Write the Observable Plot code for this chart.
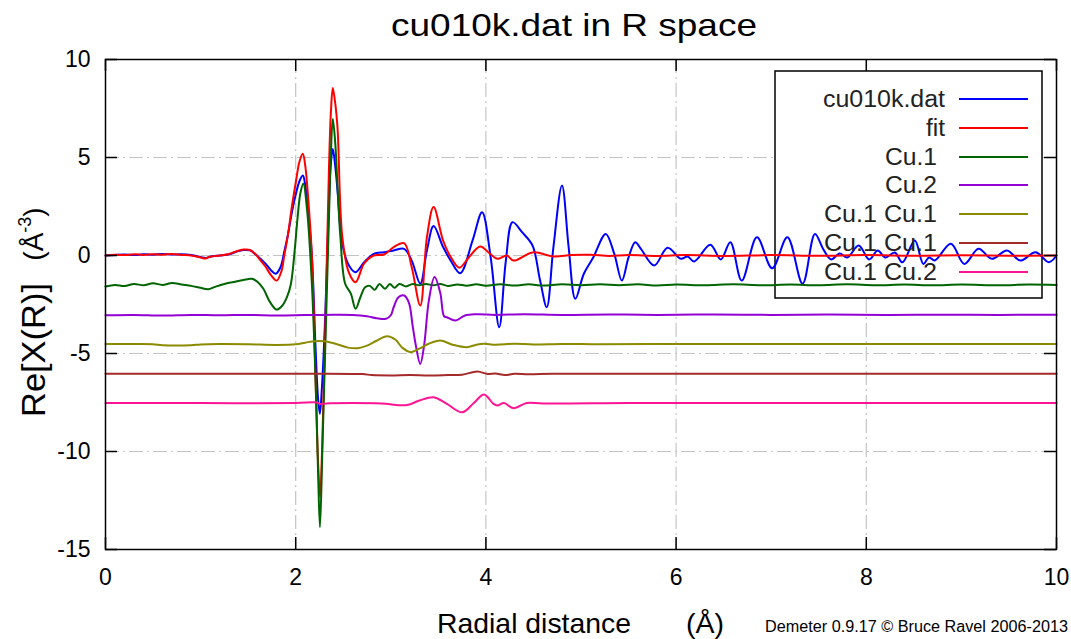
<!DOCTYPE html>
<html>
<head>
<meta charset="utf-8">
<script src="https://cdn.jsdelivr.net/npm/d3@7"></script>
<script src="https://cdn.jsdelivr.net/npm/@observablehq/plot@0.6"></script>
<style>
  body { margin: 0; background: #fff; }
  #chart svg { display: block; font-family: "Liberation Sans", Arial, sans-serif; }
</style>
</head>
<body>
<div id="chart"></div>
<script>
// Series names, in legend order, and the vertical offset each curve is stacked at
const seriesNames = ["cu010k.dat", "fit", "Cu.1", "Cu.2", "Cu.1 Cu.1", "Cu.1 Cu.1", "Cu.1 Cu.2"];
const seriesOffsets = [0, 0, -1.5, -3, -4.5, -6, -7.5];

// Tick values
const xTicks = [0, 2, 4, 6, 8, 10];
const yTicks = [-15, -10, -5, 0, 5, 10];
const xGrid = [2, 4, 6, 8];
const yGrid = [-10, -5, 0, 5];

// Re[chi(R)] of the data (R in Å)
const dataR = [0.0, 0.1, 0.2, 0.3, 0.4, 0.5, 0.6, 0.7, 0.8, 0.9, 1.0, 1.05, 1.1, 1.2, 1.3, 1.38, 1.45, 1.52, 1.58, 1.63, 1.68, 1.74, 1.79, 1.84, 1.88, 1.92, 1.96, 2.0, 2.04, 2.075, 2.1, 2.13, 2.17, 2.21, 2.235, 2.254, 2.275, 2.31, 2.35, 2.37, 2.39, 2.415, 2.44, 2.49, 2.56, 2.63, 2.72, 2.82, 2.93, 3.03, 3.14, 3.22, 3.31, 3.38, 3.45, 3.55, 3.63, 3.73, 3.86, 3.96, 4.05, 4.14, 4.21, 4.28, 4.38, 4.49, 4.57, 4.64, 4.71, 4.80, 4.87, 4.94, 5.03, 5.13, 5.26, 5.35, 5.43, 5.5, 5.57, 5.63, 5.77, 5.91, 6.05, 6.12, 6.19, 6.36, 6.47, 6.57, 6.69, 6.85, 7.01, 7.17, 7.33, 7.46, 7.55, 7.63, 7.72, 7.8, 7.92, 8.03, 8.12, 8.2, 8.3, 8.38, 8.51, 8.6, 8.66, 8.72, 8.89, 9.03, 9.18, 9.32, 9.48, 9.62, 9.78, 9.92, 10.0];
const dataV = [0.0, 0.03, 0.05, 0.02, 0.06, 0.04, 0.08, 0.05, 0.06, 0.02, -0.08, -0.13, -0.06, 0.0, 0.06, 0.2, 0.28, 0.26, 0.05, -0.17, -0.4, -0.75, -0.93, -0.6, 0.2, 1.1, 2.2, 3.1, 3.8, 4.08, 3.6, 2.3, 0.0, -4.85, -7.3, -8.08, -6.8, -3.15, 2.8, 4.7, 5.44, 4.6, 3.3, 0.6, -0.51, -0.85, -0.34, 0.08, 0.17, 0.26, 0.34, -0.26, -1.44, 0.26, 1.5, 0.43, -0.26, -0.9, 0.77, 2.21, -0.09, -3.66, -0.26, 1.7, 1.19, 0.51, -1.28, -2.64, 0.43, 3.57, 0.43, -2.21, -0.93, -0.09, 1.1, 0.08, -1.28, -0.1, 0.68, 0.34, -0.51, 0.39, -0.17, -0.05, -0.3, 0.55, -0.2, 0.68, -1.28, 0.93, -0.65, 0.93, -1.44, 1.1, 0.3, -0.2, 0.1, -0.1, 0.51, -0.2, 0.25, -0.1, 0.15, -0.35, 0.77, -0.43, -0.1, -0.25, 0.6, -0.43, 0.34, -0.17, 0.26, -0.26, 0.17, -0.34, 0.0];

// Fit
const fitR = [0.0, 0.1, 0.2, 0.3, 0.4, 0.5, 0.6, 0.7, 0.8, 0.9, 1.0, 1.05, 1.1, 1.2, 1.3, 1.38, 1.45, 1.52, 1.58, 1.63, 1.68, 1.74, 1.80, 1.85, 1.88, 1.92, 1.96, 2.0, 2.04, 2.075, 2.1, 2.13, 2.17, 2.21, 2.235, 2.256, 2.28, 2.31, 2.35, 2.37, 2.39, 2.415, 2.44, 2.49, 2.56, 2.63, 2.72, 2.82, 2.93, 3.03, 3.14, 3.22, 3.31, 3.38, 3.45, 3.55, 3.63, 3.72, 3.82, 3.94, 4.04, 4.12, 4.22, 4.29, 4.5, 4.71, 4.9, 5.1, 5.3, 5.5, 5.8, 6.1, 6.5, 7.0, 7.5, 8.0, 8.5, 9.0, 9.5, 10.0];
const fitV = [0.0, 0.04, 0.02, 0.06, 0.03, 0.07, 0.04, 0.08, 0.03, 0.0, -0.1, -0.15, -0.06, 0.0, 0.08, 0.22, 0.3, 0.28, 0.05, -0.25, -0.55, -1.0, -1.28, -0.8, 0.0, 1.1, 2.5, 3.7, 4.8, 5.19, 4.6, 3.0, 0.0, -6.5, -10.5, -12.33, -9.5, -4.0, 4.5, 7.3, 8.55, 7.8, 6.5, 0.95, -0.88, -1.36, -0.4, 0.0, 0.05, 0.43, 0.63, -0.6, -2.55, 0.94, 2.47, 0.76, -0.08, -0.62, -0.1, 0.46, 0.1, -0.17, 0.0, -0.26, 0.17, -0.05, 0.03, 0.04, -0.02, 0.03, -0.02, 0.02, -0.02, 0.02, -0.01, 0.02, -0.01, 0.01, -0.01, 0.0];

// Cu.1 path
const cu1R = [0.0, 0.1, 0.2, 0.3, 0.4, 0.5, 0.6, 0.7, 0.8, 0.9, 1.0, 1.08, 1.15, 1.25, 1.35, 1.45, 1.54, 1.6, 1.66, 1.73, 1.80, 1.86, 1.91, 1.95, 1.99, 2.02, 2.05, 2.08, 2.12, 2.17, 2.21, 2.235, 2.255, 2.28, 2.31, 2.35, 2.37, 2.39, 2.415, 2.44, 2.47, 2.52, 2.58, 2.63, 2.68, 2.73, 2.78, 2.83, 2.88, 2.94, 2.99, 3.04, 3.09, 3.16, 3.23, 3.3, 3.37, 3.45, 3.52, 3.6, 3.7, 3.8, 3.9, 4.0, 4.15, 4.3, 4.45, 4.6, 4.8, 5.0, 5.2, 5.4, 5.6, 5.8, 6.0, 6.3, 6.6, 6.9, 7.2, 7.5, 7.8, 8.1, 8.4, 8.7, 9.0, 9.4, 9.7, 10.0];
const cu1V = [-0.08, 0.0, -0.06, 0.05, -0.02, 0.08, 0.0, 0.1, 0.02, -0.05, -0.15, -0.22, -0.1, 0.05, 0.15, 0.25, 0.31, 0.15, -0.2, -0.88, -1.26, -1.05, -0.6, 0.06, 1.8, 3.45, 4.7, 5.16, 3.8, 0.06, -5.05, -9.5, -12.36, -8.5, -3.35, 3.45, 6.7, 8.47, 7.3, 5.0, 2.43, 0.06, -0.45, -1.22, -0.63, -0.12, -0.05, -0.25, 0.05, -0.2, 0.05, -0.15, 0.05, -0.08, 0.05, -0.02, 0.05, -0.02, 0.05, -0.05, 0.02, -0.04, 0.03, -0.04, 0.03, -0.03, 0.03, -0.03, 0.03, -0.02, 0.03, -0.02, 0.03, -0.03, 0.02, -0.02, 0.03, -0.02, 0.02, -0.02, 0.03, -0.02, 0.02, -0.02, 0.02, -0.02, 0.02, 0.0];

// Cu.2 path
const cu2R = [0.0, 0.3, 0.6, 0.9, 1.2, 1.5, 1.8, 2.1, 2.4, 2.6, 2.75, 2.85, 2.95, 3.0, 3.03, 3.08, 3.14, 3.19, 3.23, 3.26, 3.31, 3.35, 3.40, 3.46, 3.52, 3.56, 3.59, 3.68, 3.78, 3.9, 4.1, 4.4, 4.8, 5.3, 5.8, 6.4, 7.0, 7.6, 8.2, 8.8, 9.4, 10.0];
const cu2V = [-0.05, -0.03, -0.06, -0.03, -0.05, -0.03, -0.06, -0.04, -0.02, -0.03, -0.1, -0.2, -0.23, -0.05, 0.36, 0.87, 0.96, 0.6, -0.6, -1.5, -2.53, -1.6, 0.7, 1.9, 1.1, -0.1, -0.15, -0.32, -0.06, 0.0, -0.03, 0.0, -0.03, -0.01, -0.03, -0.01, -0.03, -0.01, -0.03, -0.02, -0.03, -0.02];

// First Cu.1 Cu.1 path
const ss1R = [0.0, 0.3, 0.5, 0.6, 0.9, 1.0, 1.2, 1.5, 1.8, 2.0, 2.1, 2.2, 2.3, 2.45, 2.55, 2.65, 2.75, 2.85, 2.96, 3.05, 3.12, 3.21, 3.3, 3.4, 3.52, 3.65, 3.8, 3.9, 3.98, 4.1, 4.3, 4.5, 4.8, 5.2, 5.8, 6.5, 7.2, 8.0, 8.8, 9.5, 10.0];
const ss1V = [-0.02, -0.02, -0.03, -0.08, -0.08, -0.04, -0.02, -0.03, -0.06, -0.03, 0.05, 0.13, 0.12, -0.05, -0.2, -0.23, -0.1, 0.15, 0.38, 0.2, -0.2, -0.43, -0.25, 0.0, 0.16, -0.05, -0.18, -0.05, 0.0, -0.05, 0.0, -0.04, -0.01, -0.03, -0.01, -0.02, -0.01, -0.02, -0.01, -0.02, -0.01];

// Second Cu.1 Cu.1 path
const ss2R = [0.0, 1.0, 2.0, 2.7, 2.8, 3.0, 3.2, 3.4, 3.6, 3.75, 3.91, 4.02, 4.1, 4.2, 4.3, 4.45, 4.7, 5.5, 6.5, 7.5, 8.5, 10.0];
const ss2V = [-0.03, -0.03, -0.03, -0.05, -0.1, -0.12, -0.1, -0.12, -0.1, -0.08, 0.08, -0.05, -0.02, -0.1, -0.03, -0.06, -0.03, -0.03, -0.03, -0.03, -0.03, -0.03];

// Cu.1 Cu.2 path
const msR = [0.0, 1.0, 2.0, 2.22, 2.26, 2.32, 2.6, 2.9, 3.17, 3.3, 3.45, 3.59, 3.75, 3.87, 3.98, 4.08, 4.12, 4.19, 4.29, 4.43, 4.6, 5.5, 6.5, 7.5, 8.5, 10.0];
const msV = [-0.03, -0.03, -0.03, 0.0, -0.08, -0.05, -0.03, -0.05, -0.13, 0.1, 0.27, -0.07, -0.5, -0.04, 0.41, -0.07, -0.15, -0.03, -0.29, -0.02, -0.05, -0.03, -0.03, -0.03, -0.03, -0.03];

const seriesR = [dataR, fitR, cu1R, cu2R, ss1R, ss2R, msR];
const seriesV = [dataV, fitV, cu1V, cu2V, ss1V, ss2V, msV];
const seriesColors = ["#0000ff", "#ff0000", "#006400", "#9400d3", "#8b8b00", "#a52a2a", "#ff1493"];

// Chart geometry
const W = 1071, H = 639;
const M = {top: 59, right: 15, bottom: 90, left: 105};
const frameW = W - M.left - M.right;
const frameH = H - M.top - M.bottom;
const tickLen = 12;
const gridStyle = {stroke: "#c4c4c4", strokeOpacity: 1, strokeWidth: 1.2, strokeDasharray: "14,4,2,4"};

const lines = seriesNames.map((name, i) =>
  Plot.line(
    seriesR[i].map((r, j) => ({r, v: seriesV[i][j] + seriesOffsets[i]})),
    {x: "r", y: "v", stroke: seriesColors[i], strokeWidth: 2, curve: "catmull-rom"}
  )
);

const plot = Plot.plot({
  width: W,
  height: H,
  marginTop: M.top,
  marginRight: M.right,
  marginBottom: M.bottom,
  marginLeft: M.left,
  x: {domain: [0, 10]},
  y: {domain: [-15, 10]},
  style: {fontFamily: "'Liberation Sans', Arial, sans-serif", color: "black", background: "white"},
  marks: [
    Plot.gridX(xGrid, gridStyle),
    Plot.gridY(yGrid, gridStyle),
    ...lines,
    // inward ticks on all four sides
    Plot.ruleX(xTicks, {x: d => d, insetTop: frameH - tickLen, stroke: "black", strokeWidth: 1.5}),
    Plot.ruleX(xTicks, {x: d => d, insetBottom: frameH - tickLen, stroke: "black", strokeWidth: 1.5}),
    Plot.ruleY(yTicks, {y: d => d, insetRight: frameW - tickLen, stroke: "black", strokeWidth: 1.5}),
    Plot.ruleY(yTicks, {y: d => d, insetLeft: frameW - tickLen, stroke: "black", strokeWidth: 1.5}),
    Plot.frame({stroke: "black", strokeWidth: 1.5}),
    Plot.axisX(xTicks, {anchor: "bottom", tickSize: 0, tickPadding: 19, fontSize: 23, label: null, tickFormat: d => String(d)}),
    Plot.axisY(yTicks, {anchor: "left", tickSize: 0, tickPadding: 15, fontSize: 23, label: null, tickFormat: d => String(d)})
  ]
});

document.getElementById("chart").appendChild(plot);

const svg = d3.select(plot);
const font = "'Liberation Sans', Arial, sans-serif";

function addText(parent, str, opts) {
  const t = parent.append("text")
    .attr("x", opts.x).attr("y", opts.y)
    .attr("font-family", font)
    .attr("font-size", opts.size)
    .attr("fill", "black")
    .attr("text-anchor", opts.anchor || "start")
    .text(str);
  if (opts.length) t.attr("textLength", opts.length).attr("lengthAdjust", "spacingAndGlyphs");
  if (opts.transform) t.attr("transform", opts.transform);
  return t;
}

// Title
addText(svg, "cu010k.dat in R space", {x: 574, y: 36, size: 32, anchor: "middle", length: 366});

// X axis label
addText(svg, "Radial distance", {x: 437, y: 633, size: 28, length: 194});
addText(svg, "(Å)", {x: 686, y: 633, size: 28, length: 38});

// Y axis label (rotated)
addText(svg, "Re[X(R)]", {x: 0, y: 0, size: 34, anchor: "middle", length: 134, transform: "translate(45,350) rotate(-90)"});
const unit = svg.append("text")
  .attr("transform", "translate(43,234) rotate(-90)")
  .attr("text-anchor", "middle")
  .attr("font-family", font)
  .attr("font-size", 28)
  .attr("fill", "black");
unit.append("tspan").text("(Å");
unit.append("tspan").attr("font-size", 18).attr("dy", -12).text("-3");
unit.append("tspan").attr("dy", 12).text(")");

// Credit line
addText(svg, "Demeter 0.9.17 © Bruce Ravel 2006-2013", {x: 765, y: 632, size: 16, length: 303});

// Legend: a white key box under the curves, labels and samples on top
const key = {x0: 775, y0: 71, x1: 1042, y1: 298, labelX: [823, 926, 885, 885, 824, 824, 824],
             labelLen: [122, 19, 52, 52, 113, 113, 113], sx0: 959, sx1: 1028, rowY: [99, 128, 157, 185, 214, 243, 272]};
const firstLine = plot.querySelector('g[aria-label="line"]');
const box = document.createElementNS("http://www.w3.org/2000/svg", "rect");
plot.insertBefore(box, firstLine);
d3.select(box)
  .attr("x", key.x0).attr("y", key.y0)
  .attr("width", key.x1 - key.x0).attr("height", key.y1 - key.y0)
  .attr("fill", "white").attr("stroke", "black").attr("stroke-width", 1.5);

const legend = svg.append("g");
seriesNames.forEach((name, i) => {
  addText(legend, name, {x: key.labelX[i], y: key.rowY[i] + 8, size: 23, length: key.labelLen[i]}).attr("fill", "#222");
  legend.append("line")
    .attr("x1", key.sx0).attr("x2", key.sx1)
    .attr("y1", key.rowY[i]).attr("y2", key.rowY[i])
    .attr("stroke", seriesColors[i]).attr("stroke-width", 2);
});
</script>
</body>
</html>
